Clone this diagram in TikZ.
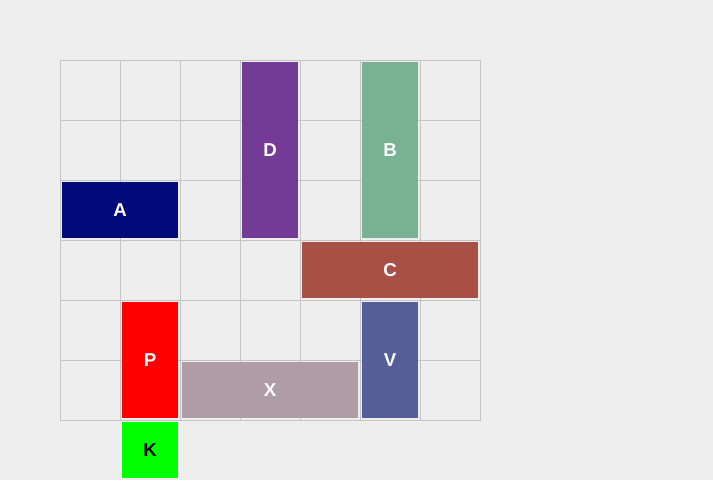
\documentclass[tikz,border=0pt]{standalone}
\usepackage{fontspec}
\setmainfont{Liberation Sans}
\usepackage{xcolor}
\usetikzlibrary{positioning}
\definecolor{bgGray}{RGB}{238,238,238}
\definecolor{gridGray}{RGB}{196,196,196}
\definecolor{colA}{RGB}{0,10,122}
\definecolor{colB}{RGB}{120,178,146}
\definecolor{colC}{RGB}{168,80,69}
\definecolor{colD}{RGB}{115,58,150}
\definecolor{colP}{RGB}{255,0,0}
\definecolor{colV}{RGB}{83,95,150}
\definecolor{colX}{RGB}{176,156,166}
\definecolor{colK}{RGB}{0,255,0}
\tikzset{
  cell/.style   = {draw=gridGray, line width=0.75pt},
  car/.style    = {rectangle, inner sep=0pt, text=white,
                   font=\fontsize{14}{16}\selectfont\bfseries},
  carH2/.style  = {car, minimum width=87pt,  minimum height=42pt},
  carH3/.style  = {car, minimum width=132pt, minimum height=42pt},
  carV2/.style  = {car, minimum width=42pt,  minimum height=87pt},
  carV3/.style  = {car, minimum width=42pt,  minimum height=132pt},
  carS/.style   = {car, minimum width=42pt,  minimum height=42pt},
}

\begin{document}
\begin{tikzpicture}[x=0.75pt, y=-0.75pt]

    \fill[bgGray] (0,0) rectangle (713,480);
    \useasboundingbox (0,0) rectangle (713,480);

    % board
    \foreach \i in {0,...,6}
      \foreach \j in {0,...,5}
        \draw[cell] ({60+60*\i},{60+60*\j}) rectangle ++(60,60);

    % vehicles
    \node[carH2, fill=colA] (carA) at (120, 210) {A};
    \node[carV3, fill=colD] (carD) at (270, 150) {D};
    \node[carV3, fill=colB] (carB) at (390, 150) {B};
    \node[carH3, fill=colC] (carC) at (390, 270) {C};
    \node[carV2, fill=colP] (carP) at (150, 360) {P};
    \node[carV2, fill=colV] (carV) at (390, 360) {V};
    \node[carH3, fill=colX] (carX) at (270, 390) {X};
    \node[carS,  fill=colK, text=black] (carK) at (150, 450) {K};

  \end{tikzpicture}
\end{document}
